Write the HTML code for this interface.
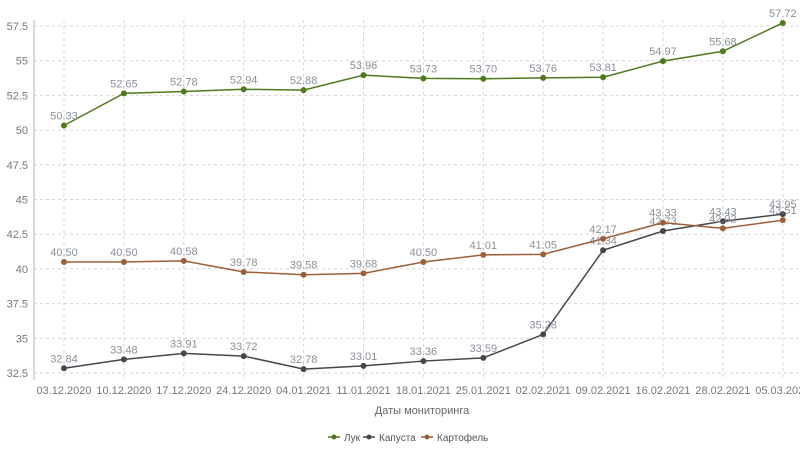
<!DOCTYPE html>
<html><head><meta charset="utf-8"><style>
body{margin:0;background:#fff;width:800px;height:450px;overflow:hidden;font-family:"Liberation Sans",sans-serif}
</style></head><body>
<svg id="chart" width="800" height="450"></svg>
<script>
const categories=["03.12.2020","10.12.2020","17.12.2020","24.12.2020","04.01.2021","11.01.2021","18.01.2021","25.01.2021","02.02.2021","09.02.2021","16.02.2021","28.02.2021","05.03.2021"];
const onion=[50.33,52.65,52.78,52.94,52.88,53.96,53.73,53.70,53.76,53.81,54.97,55.68,57.72];
const cabbage=[32.84,33.48,33.91,33.72,32.78,33.01,33.36,33.59,35.28,41.34,42.73,43.43,43.95];
const potato=[40.50,40.50,40.58,39.78,39.58,39.68,40.50,41.01,41.05,42.17,43.33,42.92,43.51];
const yTicks=[32.5,35,37.5,40,42.5,45,47.5,50,52.5,55,57.5];
const seriesNames=["Лук","Капуста","Картофель"];
const seriesColors=["#4f7a1c","#45474d","#9c5f38"];
const NS="http://www.w3.org/2000/svg";
const svg=document.getElementById('chart');
const x=i=>64+i*59.9;
const y=v=>373-(v-32.5)*(347/25);
function mk(t,a,txt){const e=document.createElementNS(NS,t);for(const k in a)e.setAttribute(k,a[k]);if(txt!==undefined)e.textContent=txt;svg.appendChild(e);return e;}
yTicks.forEach(t=>{
 const g=mk('line',{x1:34,x2:800,y1:y(t),y2:y(t),stroke:'#d6d6d6','stroke-dasharray':'3,3'});
 
 
 const l=mk('text',{x:28,y:y(t)+4,'text-anchor':'end','font-size':11,fill:'#777'},String(t));
 
 
});
categories.forEach((c,i)=>{
 const g=mk('line',{x1:x(i),x2:x(i),y1:20,y2:380,stroke:'#d6d6d6','stroke-dasharray':'3,3'});
 
 
 const l=mk('text',{x:x(i),y:394,'text-anchor':'middle','font-size':11,fill:'#777'},c);
 
 
});
const ax=mk('line',{x1:34,x2:34,y1:20,y2:380,stroke:'#ccc','stroke-width':1.5});


const xt=mk('text',{x:422,y:414,'text-anchor':'middle','font-size':11,fill:'#666'},'Даты мониторинга');


[onion,cabbage,potato].forEach((d,s)=>{
 const p=mk('polyline',{points:d.map((v,i)=>x(i)+','+y(v)).join(' '),fill:'none',stroke:seriesColors[s],'stroke-width':1.5});
 
 
 d.forEach((v,i)=>{
  const c=mk('circle',{cx:x(i),cy:y(v),r:3,fill:seriesColors[s]});
  
  
  const t=mk('text',{x:x(i),y:y(v)-6,'text-anchor':'middle','font-size':11,fill:'#8a9099'},v.toFixed(2));
  
  
 });
});
const lx=[328,363,421];
seriesNames.forEach((n,s)=>{
 const ln=mk('line',{x1:lx[s],x2:lx[s]+12,y1:437,y2:437,stroke:seriesColors[s],'stroke-width':1.5});
 
 
 const c=mk('circle',{cx:lx[s]+6,cy:437,r:2.5,fill:seriesColors[s]});
 
 
 const t=mk('text',{x:lx[s]+16,y:441,'font-size':10,fill:'#555'},n);
 
 
});
</script>
</body></html>
